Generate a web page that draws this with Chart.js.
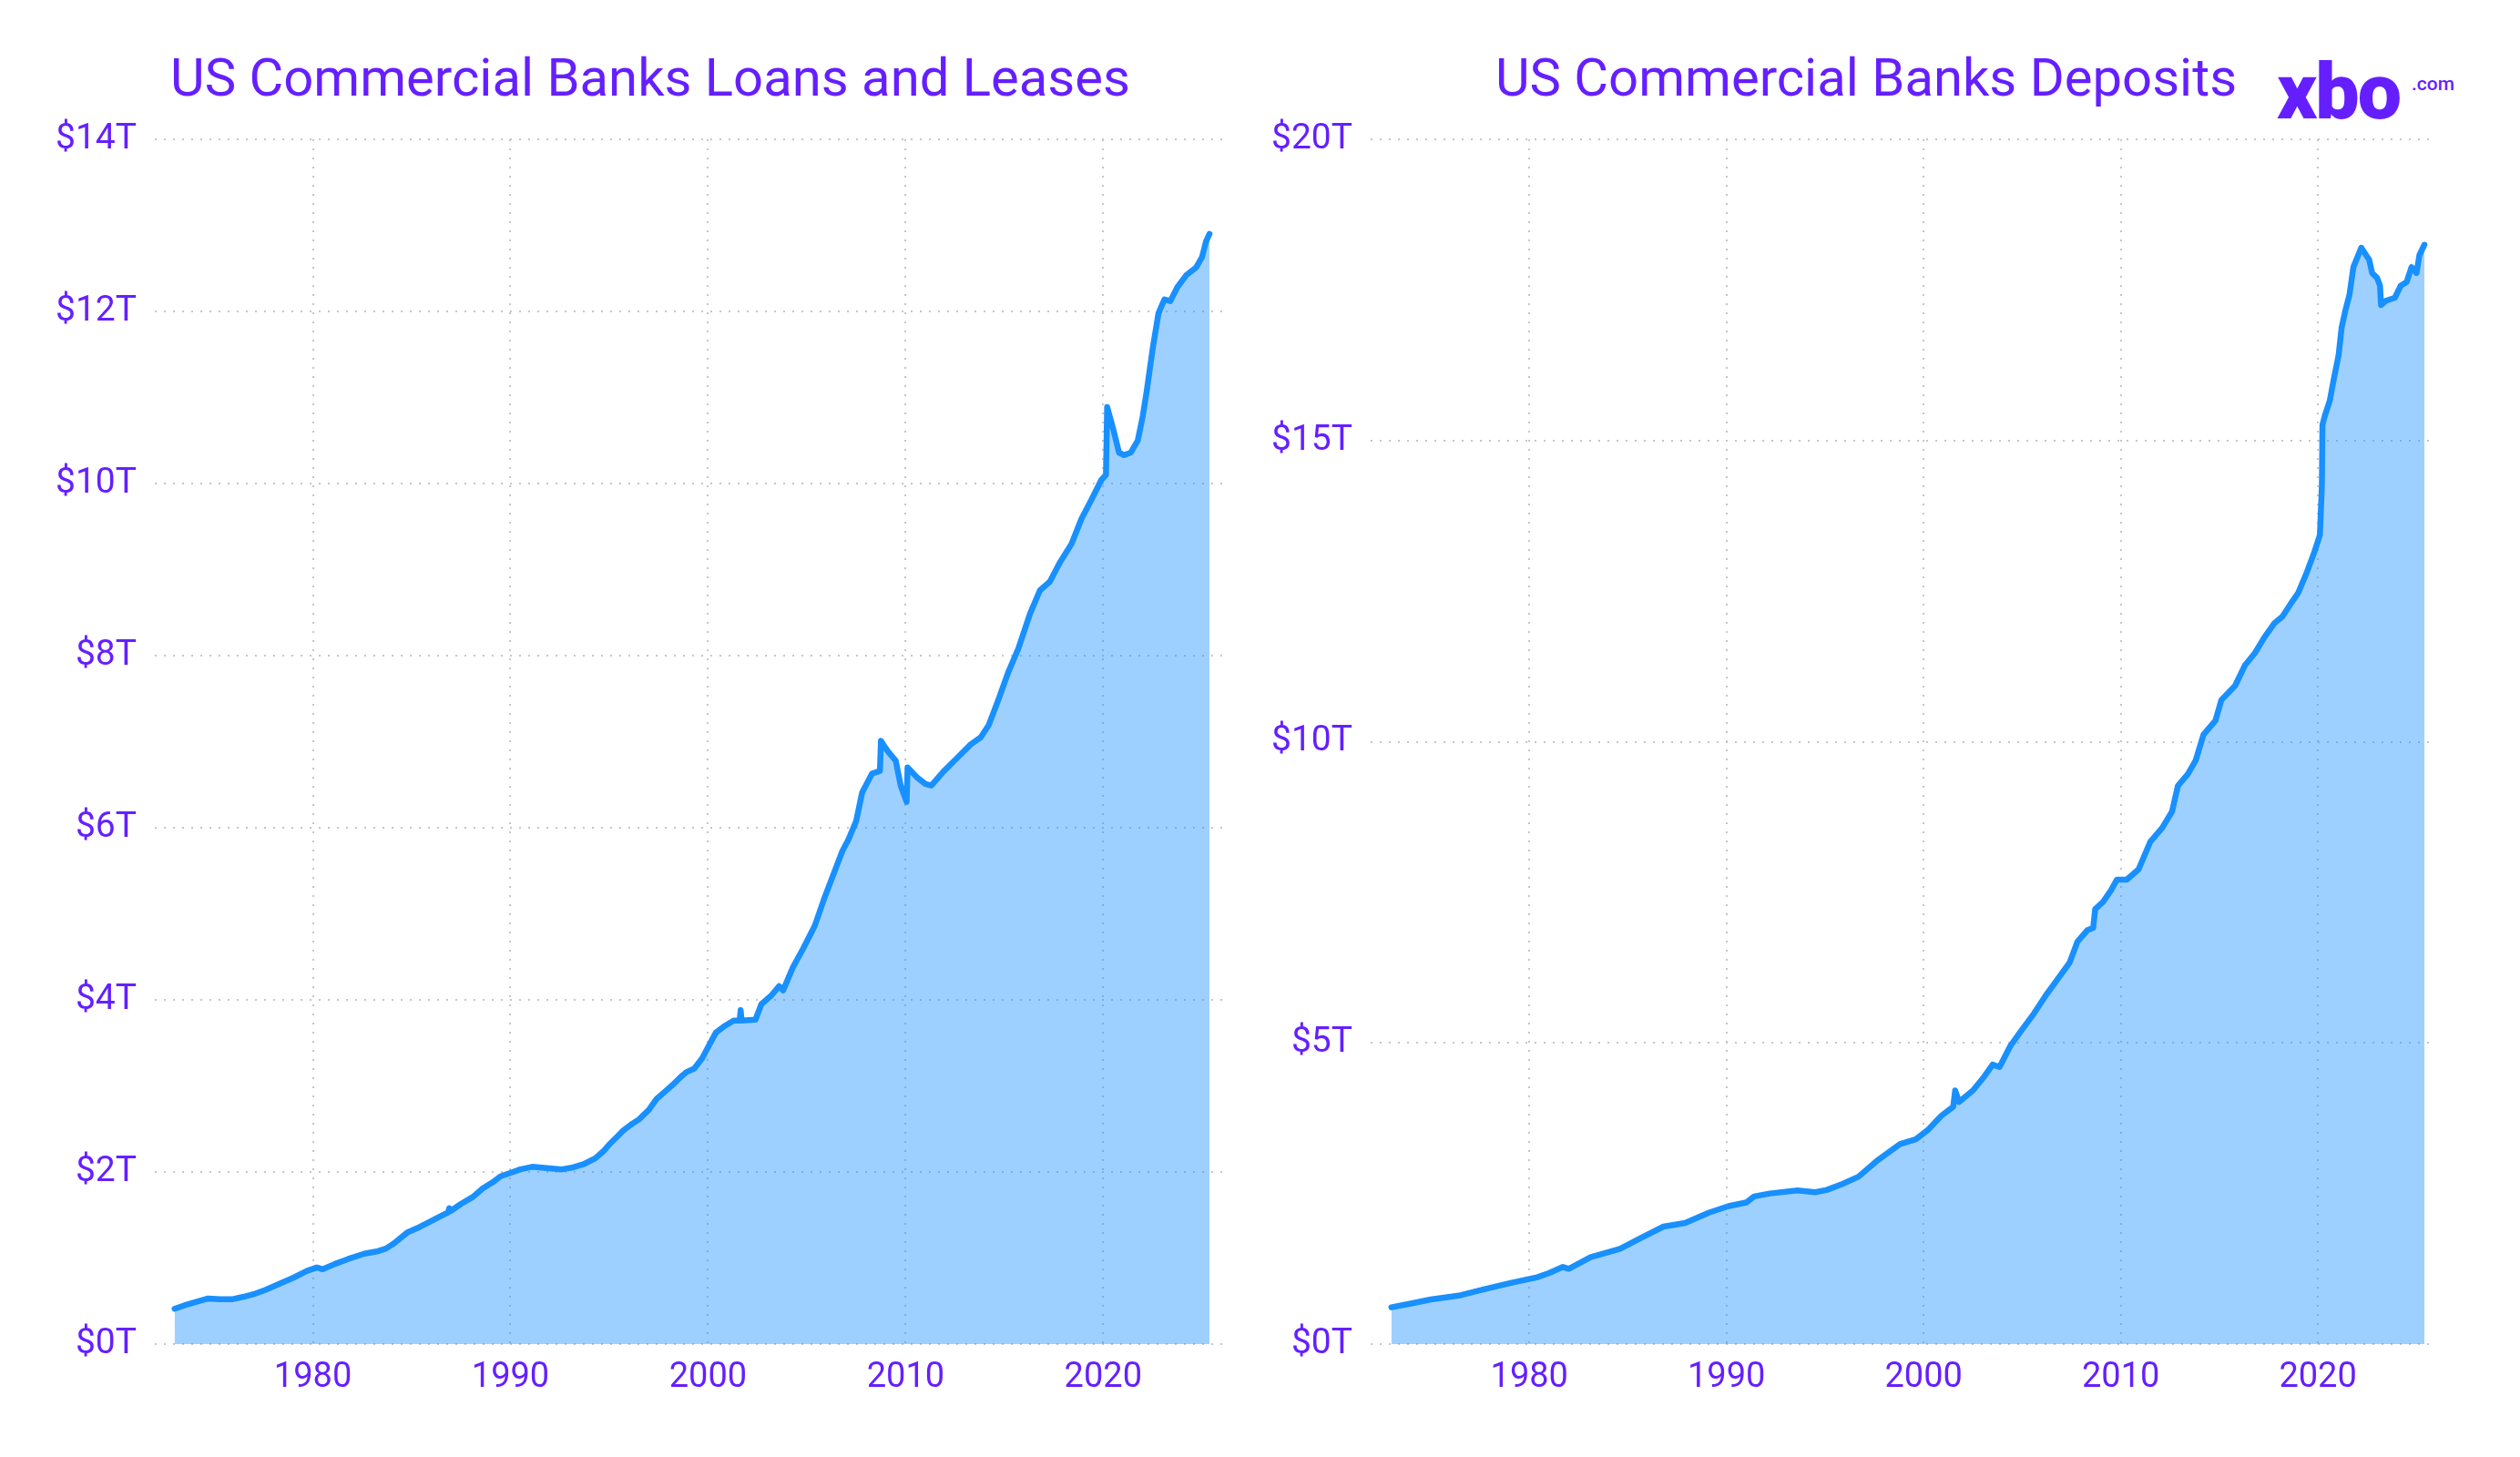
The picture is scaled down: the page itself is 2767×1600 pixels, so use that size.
<!DOCTYPE html>
<html>
<head>
<meta charset="utf-8">
<script src="https://cdn.jsdelivr.net/npm/chart.js@4.4.1/dist/chart.umd.min.js"></script>
<style>
  body { margin: 0; width: 2767px; height: 1600px; background: #fff; position: relative; overflow: hidden; font-family: Roboto, sans-serif; }
  .box { position: absolute; top: 0; height: 1600px; }
  .title { position: absolute; top: 56px; font-size: 58px; line-height: 58px; font-weight: 400; color: #651FFF; white-space: nowrap; transform: translateX(-50%); }
  .logo { position: absolute; left: 2500px; top: 58px; font-size: 86px; line-height: 86px; font-weight: 900; color: #651FFF; letter-spacing: -2px; }
  .logo-com { position: absolute; left: 2648px; top: 82px; font-size: 21px; line-height: 21px; font-weight: 500; color: #651FFF; }
</style>
</head>
<body>
<div class="title" style="left:714px">US Commercial Banks Loans and Leases</div>
<div class="title" style="left:2049px">US Commercial Banks Deposits</div>
<div class="logo">xbo</div>
<div class="logo-com">.com</div>

<div class="box" style="left:0;width:1383px"><canvas id="loans" width="1383" height="1600"></canvas></div>
<div class="box" style="left:1383px;width:1384px"><canvas id="deposits" width="1384" height="1600"></canvas></div>

<script>
// x tick labels (years)
const yearTicks = [1980, 1990, 2000, 2010, 2020];

// loans and leases, trillions of dollars
const loanYears = [1973.0, 1973.5, 1974.1, 1974.7, 1975.3, 1975.9, 1976.5, 1977.0, 1977.6, 1978.1,
  1978.6, 1979.0, 1979.7, 1980.2, 1980.5, 1981.1, 1981.8, 1982.6, 1983.3, 1983.7,
  1984.1, 1984.8, 1985.4, 1985.9, 1986.5, 1986.85, 1986.9, 1987.0, 1987.5, 1988.1,
  1988.6, 1989.1, 1989.5, 1990.0, 1990.5, 1991.1, 1991.6, 1992.1, 1992.6, 1993.1,
  1993.7, 1994.3, 1994.7, 1995.0, 1995.4, 1995.7, 1996.1, 1996.5, 1997.0, 1997.4,
  1997.8, 1998.2, 1998.6, 1998.9, 1999.3, 1999.7, 2000.0, 2000.4, 2000.8, 2001.3,
  2001.6, 2001.65, 2001.7, 2002.4, 2002.7, 2003.2, 2003.6, 2003.8, 2004.3, 2004.8,
  2005.4, 2005.9, 2006.4, 2006.8, 2007.1, 2007.5, 2007.8, 2008.3, 2008.7, 2008.75,
  2009.0, 2009.2, 2009.5, 2009.75, 2010.05, 2010.1, 2010.6, 2011.0, 2011.3, 2011.9,
  2012.6, 2013.3, 2013.8, 2014.2, 2014.7, 2015.2, 2015.7, 2016.3, 2016.8, 2017.3,
  2017.8, 2018.4, 2018.9, 2019.4, 2019.9, 2020.14, 2020.2, 2020.5, 2020.8, 2021.06,
  2021.4, 2021.75, 2022.0, 2022.2, 2022.5, 2022.8, 2023.1, 2023.4, 2023.75, 2024.2,
  2024.7, 2025.0, 2025.2, 2025.38];
const loanValues = [0.41, 0.45, 0.49, 0.53, 0.52, 0.52, 0.55, 0.58, 0.63, 0.68,
  0.73, 0.77, 0.85, 0.89, 0.87, 0.93, 0.99, 1.05, 1.08, 1.11,
  1.17, 1.30, 1.36, 1.42, 1.49, 1.53, 1.58, 1.55, 1.63, 1.71,
  1.81, 1.88, 1.95, 1.99, 2.03, 2.06, 2.05, 2.04, 2.03, 2.05,
  2.09, 2.16, 2.24, 2.32, 2.41, 2.48, 2.55, 2.61, 2.72, 2.85,
  2.93, 3.01, 3.10, 3.16, 3.20, 3.32, 3.45, 3.62, 3.69, 3.76,
  3.76, 3.88, 3.76, 3.77, 3.95, 4.05, 4.16, 4.11, 4.38, 4.59,
  4.86, 5.19, 5.49, 5.73, 5.86, 6.08, 6.41, 6.63, 6.66, 7.01,
  6.92, 6.86, 6.78, 6.49, 6.30, 6.70, 6.58, 6.51, 6.49, 6.65,
  6.81, 6.97, 7.05, 7.19, 7.49, 7.81, 8.08, 8.49, 8.76, 8.86,
  9.08, 9.30, 9.59, 9.81, 10.04, 10.10, 10.89, 10.64, 10.36, 10.33,
  10.36, 10.50, 10.78, 11.07, 11.56, 11.98, 12.14, 12.12, 12.28, 12.42,
  12.51, 12.63, 12.81, 12.90];
const loanTicks = [0, 2, 4, 6, 8, 10, 12, 14];

// deposits, trillions of dollars
const depositYears = [1973.0, 1974.1, 1975.0, 1976.5, 1977.6, 1979.0, 1980.4, 1981.0, 1981.7, 1982.0,
  1983.1, 1984.6, 1985.6, 1986.8, 1987.9, 1989.1, 1990.1, 1991.0, 1991.4, 1992.2,
  1993.6, 1994.5, 1995.1, 1995.9, 1996.7, 1997.7, 1998.8, 1999.6, 2000.2, 2000.9,
  2001.5, 2001.6, 2001.8, 2002.5, 2003.0, 2003.5, 2003.85, 2004.4, 2004.9, 2005.6,
  2006.2, 2006.8, 2007.4, 2007.8, 2008.3, 2008.6, 2008.7, 2009.1, 2009.5, 2009.8,
  2010.3, 2010.9, 2011.2, 2011.5, 2012.1, 2012.6, 2012.9, 2013.4, 2013.8, 2014.2,
  2014.8, 2015.1, 2015.8, 2016.3, 2016.8, 2017.3, 2017.8, 2018.2, 2018.6, 2019.0,
  2019.4, 2019.8, 2020.1, 2020.2, 2020.23, 2020.35, 2020.6, 2020.8, 2021.05, 2021.2,
  2021.4, 2021.6, 2021.8, 2022.05, 2022.2, 2022.4, 2022.6, 2022.75, 2023.0, 2023.15,
  2023.2, 2023.45, 2023.9, 2024.2, 2024.5, 2024.75, 2025.0, 2025.15, 2025.4];
const depositValues = [0.61, 0.68, 0.74, 0.81, 0.90, 1.01, 1.11, 1.18, 1.28, 1.25,
  1.44, 1.58, 1.75, 1.95, 2.01, 2.18, 2.29, 2.35, 2.45, 2.50,
  2.55, 2.52, 2.56, 2.66, 2.78, 3.06, 3.32, 3.40, 3.55, 3.79,
  3.94, 4.21, 4.02, 4.21, 4.41, 4.64, 4.60, 4.95, 5.18, 5.49,
  5.79, 6.06, 6.33, 6.68, 6.87, 6.91, 7.22, 7.34, 7.53, 7.71,
  7.71, 7.88, 8.11, 8.34, 8.57, 8.84, 9.27, 9.46, 9.69, 10.12,
  10.35, 10.69, 10.93, 11.27, 11.47, 11.74, 11.97, 12.08, 12.28, 12.47,
  12.78, 13.13, 13.43, 14.25, 15.26, 15.41, 15.66, 16.01, 16.42, 16.87,
  17.17, 17.42, 17.88, 18.08, 18.20, 18.10, 18.00, 17.78, 17.70, 17.57,
  17.25, 17.32, 17.37, 17.57, 17.63, 17.88, 17.78, 18.08, 18.25];
const depositTicks = [0, 5, 10, 15, 20];

const purple = '#651FFF';
const gridColor = '#c6c6c6';

function makeChart(id, years, values, yTicks, opts) {
    const ctx = document.getElementById(id).getContext('2d');
    return new Chart(ctx, {
        type: 'line',
        data: {
            datasets: [{
                data: years.map((y, i) => ({ x: y, y: values[i] })),
                borderColor: '#1890FF',
                backgroundColor: 'rgba(24,144,255,0.42)',
                borderWidth: 6.5,
                borderJoinStyle: 'round',
                borderCapStyle: 'round',
                pointRadius: 0,
                tension: 0,
                fill: 'origin'
            }]
        },
        options: {
            responsive: false,
            animation: false,
            devicePixelRatio: 1,
            layout: { padding: { top: 153, right: opts.right, bottom: 0, left: 0 } },
            plugins: { legend: { display: false }, tooltip: { enabled: false } },
            scales: {
                x: {
                    type: 'linear',
                    min: opts.xMin,
                    max: opts.xMax,
                    afterBuildTicks: s => { s.ticks = yearTicks.map(v => ({ value: v })); },
                    afterFit: s => { s.height = 124; },
                    grid: { color: gridColor, lineWidth: 2, drawTicks: false },
                    border: { display: false, dash: [2, 8] },
                    ticks: {
                        color: purple,
                        padding: 15,
                        maxRotation: 0,
                        font: { family: 'Roboto', size: 38 },
                        callback: v => String(v)
                    }
                },
                y: {
                    min: 0,
                    max: yTicks[yTicks.length - 1],
                    afterBuildTicks: s => { s.ticks = yTicks.map(v => ({ value: v })); },
                    afterFit: s => { s.width = opts.yWidth; },
                    grid: { color: gridColor, lineWidth: 2, drawTicks: false },
                    border: { display: false, dash: [2, 8] },
                    ticks: {
                        color: purple,
                        padding: 20,
                        font: { family: 'Roboto', size: 39 },
                        callback: v => '$' + v + 'T'
                    }
                }
            }
        }
    });
}

makeChart('loans', loanYears, loanValues, loanTicks, { right: 35, yWidth: 170, xMin: 1972.0, xMax: 2026.3 });
makeChart('deposits', depositYears, depositValues, depositTicks, { right: 92, yWidth: 122, xMin: 1971.95, xMax: 2026.0 });
</script>
</body>
</html>
